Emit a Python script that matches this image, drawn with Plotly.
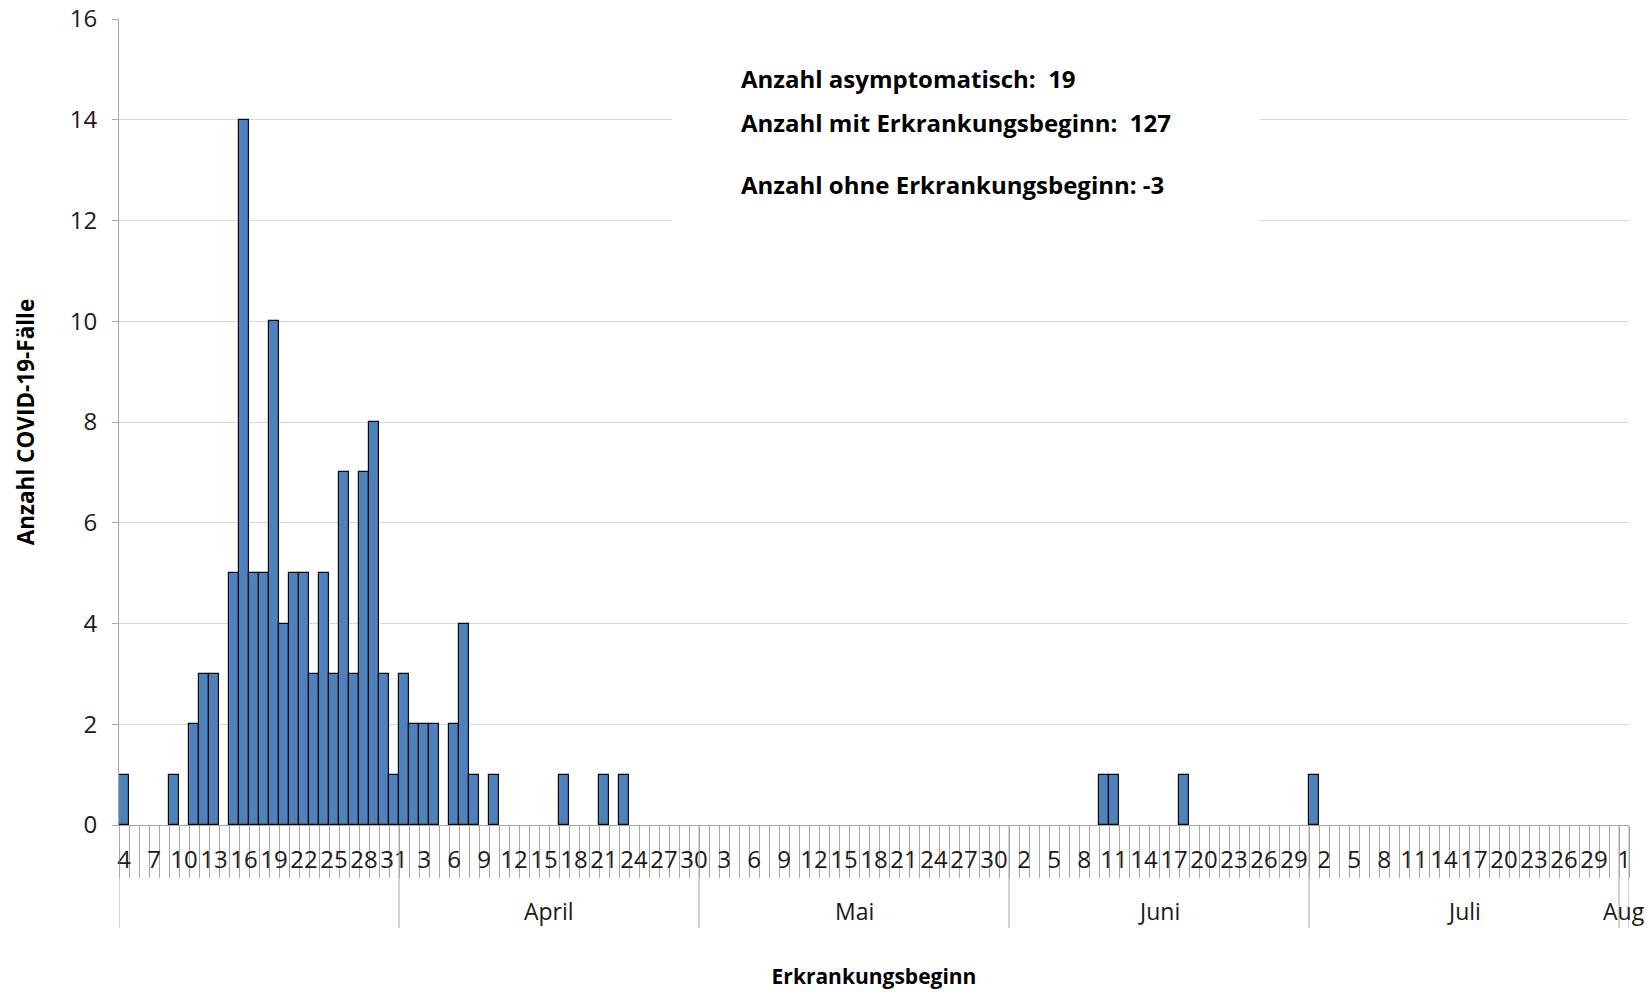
import pandas as pd
import plotly.graph_objects as go

# ---------------- data ----------------
onset_dates = [
    "2020-03-04", "2020-03-09", "2020-03-11", "2020-03-12", "2020-03-13",
    "2020-03-15", "2020-03-16", "2020-03-17", "2020-03-18", "2020-03-19",
    "2020-03-20", "2020-03-21", "2020-03-22", "2020-03-23", "2020-03-24",
    "2020-03-25", "2020-03-26", "2020-03-27", "2020-03-28", "2020-03-29",
    "2020-03-30", "2020-03-31", "2020-04-01", "2020-04-02", "2020-04-03",
    "2020-04-04", "2020-04-06", "2020-04-07", "2020-04-08", "2020-04-10",
    "2020-04-17", "2020-04-21", "2020-04-23", "2020-06-10", "2020-06-11",
    "2020-06-18", "2020-07-01",
]
case_counts = [
    1, 1, 2, 3, 3,
    5, 14, 5, 5, 10,
    4, 5, 5, 3, 5,
    3, 7, 3, 7, 8,
    3, 1, 3, 2, 2,
    2, 2, 4, 1, 1,
    1, 1, 1, 1, 1,
    1, 1,
]
axis_start = "2020-03-04"
axis_end = "2020-08-01"
month_names = ["", "April", "Mai", "Juni", "Juli", "Aug"]
month_starts = ["2020-03-04", "2020-04-01", "2020-05-01", "2020-06-01", "2020-07-01", "2020-08-01"]
y_tick_values = [0, 2, 4, 6, 8, 10, 12, 14, 16]
info_lines = [
    "Anzahl asymptomatisch:  19",
    "Anzahl mit Erkrankungsbeginn:  127",
    "Anzahl ohne Erkrankungsbeginn: -3",
]
info_line_y = [0.926, 0.871, 0.795]  # paper positions of the text lines
y_title = "Anzahl COVID-19-Fälle"
x_title = "Erkrankungsbeginn"

# ---------------- derived axis helpers ----------------
half_day = pd.Timedelta(hours=12)
all_days = pd.date_range(axis_start, axis_end, freq="D")
label_days = all_days[::3]
boundaries = list(all_days - half_day) + [all_days[-1] + half_day]
month_edges = [pd.Timestamp(m) - half_day for m in month_starts] + [pd.Timestamp(axis_end) + half_day]

FONT = "Open Sans"
TXT = "#1a1a1a"
GRID = "#D9D9D9"
AXIS = "#A6A6A6"

fig = go.Figure()
fig.add_trace(go.Bar(
    x=pd.to_datetime(onset_dates),
    y=case_counts,
    width=86400000,
    marker=dict(color="#4F81BD", line=dict(color="#0a0a0a", width=1.2)),
    showlegend=False,
    hoverinfo="x+y",
))

shapes = []
# white text box background (hides the gridlines behind the text)
shapes.append(dict(type="rect", xref="paper", yref="paper",
                   x0=0.3662, x1=0.7556, y0=0.66, y1=0.985,
                   fillcolor="white", line=dict(width=0), layer="above"))
# month group dividers below the axis
for edge in month_edges:
    shapes.append(dict(type="line", xref="x", yref="paper",
                       x0=edge, x1=edge, y0=0, y1=-0.128,
                       line=dict(color=AXIS, width=1)))

annotations = []
for i, name in enumerate(month_names):
    if not name:
        continue
    c = month_edges[i] + (month_edges[i + 1] - month_edges[i]) / 2
    annotations.append(dict(x=c, y=-0.1067, xref="x", yref="paper",
                            text=name, showarrow=False, xanchor="center", yanchor="middle",
                            font=dict(family=FONT, size=23, color=TXT)))
for line, yy in zip(info_lines, info_line_y):
    annotations.append(dict(x=0.4106, y=yy, xref="paper", yref="paper",
                            text="<b>%s</b>" % line, showarrow=False,
                            xanchor="left", yanchor="middle",
                            font=dict(family=FONT, size=24, color="#000000")))

fig.update_layout(
    width=1650, height=993,
    margin=dict(l=119, r=21, t=19, b=168),
    paper_bgcolor="white", plot_bgcolor="white",
    bargap=0,
    shapes=shapes,
    annotations=annotations,
    font=dict(family=FONT, color=TXT),
    xaxis=dict(
        type="date",
        range=[boundaries[0], boundaries[-1]],
        tickmode="array",
        tickvals=list(label_days),
        ticktext=[str(d.day) for d in label_days],
        ticks="",
        ticklabelstandoff=13,
        tickfont=dict(family=FONT, size=24, color=TXT),
        showgrid=False,
        showline=True, linecolor=AXIS, linewidth=1,
        minor=dict(tickmode="array", tickvals=boundaries, ticks="outside",
                   ticklen=52, tickcolor=AXIS, tickwidth=1, showgrid=False),
        title=dict(text="<b>%s</b>" % x_title, standoff=95,
                   font=dict(family=FONT, size=21, color="#000000")),
        automargin=False,
        fixedrange=True,
    ),
    yaxis=dict(
        range=[0, 16],
        tickmode="array",
        tickvals=y_tick_values,
        ticks="outside", ticklen=6, tickcolor=AXIS,
        ticklabelstandoff=10,
        tickfont=dict(family=FONT, size=24, color=TXT),
        showgrid=True, gridcolor=GRID, gridwidth=1,
        showline=True, linecolor=AXIS, linewidth=1,
        zeroline=False,
        title=dict(text="<b>%s</b>" % y_title, standoff=28,
                   font=dict(family=FONT, size=22.5, color="#000000")),
        automargin=False,
        fixedrange=True,
    ),
)

fig.write_html("out.html", config={"displayModeBar": False},
               post_script="document.body.style.margin='0px';")
